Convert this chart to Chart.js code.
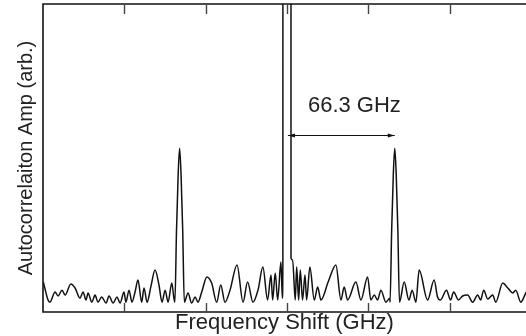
<!DOCTYPE html>
<html>
<head>
<meta charset="utf-8">
<script src="https://cdn.jsdelivr.net/npm/chart.js@4"></script>
<style>
  html, body { margin: 0; padding: 0; background: #fff; overflow: hidden; }
  canvas { display: block; }
</style>
</head>
<body>
<canvas id="myChart" width="526" height="336"></canvas>
<script>
// data (GHz, arbitrary amplitude)
const freqGHz = [
  -149.8, -146.9, -145.7, -142.6, -140.7, -138.3, -136.4, -132.9, -130.3, -127.2,
  -125.4, -123.5, -122.3, -120.0, -118.0, -116.2, -113.9, -111.2, -109.4, -106.9,
  -104.5, -102.6, -100.2, -99.0, -97.1, -95.3, -93.4, -91.6, -89.3, -87.9,
  -86.0, -83.6, -81.1, -78.7, -76.8, -74.9, -73.1, -70.8, -69.5,
  -68.9, -67.9, -66.9, -66.0, -65.1, -64.1, -63.1,
  -60.8, -58.6, -56.5, -54.7, -52.4, -49.2, -46.3, -43.2, -40.7, -38.1,
  -35.0, -30.7, -27.0, -24.2, -20.9, -17.8, -14.8, -11.9, -9.8, -8.8,
  -7.2, -5.7, -3.7, -2.8, -2.5, -2.45,
  2.45, 2.5, 3.5, 5.1, 6.0, 7.2, 8.2, 9.6, 11.1, 12.1,
  14.1, 16.8, 18.9, 20.9, 25.5, 30.1, 33.2, 35.2, 37.3, 42.4,
  45.5, 49.6, 51.6, 53.7, 55.7, 57.8, 60.8, 63.3,
  63.4, 64.4, 65.4, 66.3, 67.2, 68.2, 69.2,
  72.1, 75.0, 77.0, 79.3, 81.3, 86.5, 90.5, 92.6, 94.4,
  98.1, 100.6, 102.5, 105.5, 108.0, 111.1, 114.2, 117.3, 119.1, 121.0,
  123.5, 126.5, 128.4, 132.7, 135.8, 138.9, 140.7, 143.8, 146.9, 148.0
];
const amp = [
  0.098, 0.039, 0.032, 0.065, 0.052, 0.071, 0.055, 0.091, 0.078, 0.045,
  0.065, 0.039, 0.062, 0.032, 0.055, 0.032, 0.049, 0.029, 0.052, 0.029,
  0.049, 0.029, 0.065, 0.032, 0.071, 0.032, 0.065, 0.104, 0.032, 0.078,
  0.032, 0.084, 0.136, 0.088, 0.032, 0.071, 0.032, 0.094, 0.045,
  0.032, 0.266, 0.445, 0.532, 0.445, 0.266, 0.032,
  0.062, 0.029, 0.049, 0.032, 0.065, 0.114, 0.094, 0.032, 0.088, 0.032,
  0.071, 0.153, 0.032, 0.097, 0.032, 0.071, 0.146, 0.039, 0.120, 0.039,
  0.127, 0.039, 0.162, 0.045, 0.170, 3.0,
  3.0, 0.175, 0.169, 0.039, 0.146, 0.039, 0.136, 0.039, 0.120, 0.039,
  0.146, 0.039, 0.081, 0.039, 0.100, 0.153, 0.039, 0.081, 0.039, 0.097,
  0.039, 0.114, 0.039, 0.055, 0.039, 0.071, 0.032, 0.045,
  0.032, 0.266, 0.445, 0.532, 0.445, 0.266, 0.032,
  0.097, 0.039, 0.071, 0.032, 0.136, 0.039, 0.104, 0.049, 0.039,
  0.071, 0.039, 0.065, 0.039, 0.052, 0.055, 0.032, 0.055, 0.039, 0.071,
  0.042, 0.055, 0.032, 0.094, 0.078, 0.062, 0.071, 0.032, 0.062, 0.071
];
const tickValues = [-100, -50, 0, 50, 100];
const spacingLabel = '66.3 GHz';
const spacingFrom = 0.6;
const spacingTo = 66.3;
const arrowAmp = 0.575;
const labelAt = [12.9, 0.649];

const fontFamily = '"Liberation Sans", Arial, sans-serif';
const ink = '#111';

let points = [];
for (let i = 0; i < freqGHz.length; i++) {
  points.push({ x: freqGHz[i], y: amp[i] });
}

// frame, inward ticks and the arrow
const framePlugin = {
  id: 'frame',
  afterDraw(chart) {
    const c = chart.ctx;
    const a = chart.chartArea;
    const xs = chart.scales.x;
    const ys = chart.scales.y;
    c.save();
    c.strokeStyle = ink;
    c.lineWidth = 1.6;
    c.beginPath();
    c.moveTo(a.right + 2, a.top);
    c.lineTo(a.left, a.top);
    c.lineTo(a.left, a.bottom);
    c.lineTo(a.right + 2, a.bottom);
    c.stroke();

    c.strokeStyle = '#444';
    c.lineWidth = 1.4;
    for (const v of tickValues) {
      const px = Math.round(xs.getPixelForValue(v)) + 0.5;
      c.beginPath();
      c.moveTo(px, a.top);
      c.lineTo(px, a.top + 10);
      c.moveTo(px, a.bottom);
      c.lineTo(px, a.bottom - 9);
      c.stroke();
    }

    // spacing arrow
    const x1 = xs.getPixelForValue(spacingFrom);
    const x2 = xs.getPixelForValue(spacingTo);
    const y = Math.round(ys.getPixelForValue(arrowAmp)) + 0.5;
    c.strokeStyle = ink;
    c.fillStyle = ink;
    c.lineWidth = 1;
    c.beginPath();
    c.moveTo(x1, y);
    c.lineTo(x2, y);
    c.stroke();
    c.beginPath();
    c.moveTo(x1, y);
    c.lineTo(x1 + 7, y - 2);
    c.lineTo(x1 + 7, y + 2);
    c.closePath();
    c.fill();
    c.beginPath();
    c.moveTo(x2, y);
    c.lineTo(x2 - 7, y - 2);
    c.lineTo(x2 - 7, y + 2);
    c.closePath();
    c.fill();

    c.font = '22px ' + fontFamily;
    c.textAlign = 'left';
    c.textBaseline = 'alphabetic';
    c.fillStyle = '#222';
    c.fillText(spacingLabel, xs.getPixelForValue(labelAt[0]), ys.getPixelForValue(labelAt[1]));
    c.restore();
  }
};

const ctx = document.getElementById('myChart');
new Chart(ctx, {
  type: 'scatter',
  data: {
    datasets: [{
      data: points,
      showLine: true,
      borderColor: ink,
      borderWidth: 1.5,
      pointRadius: 0,
      cubicInterpolationMode: 'monotone'
    }]
  },
  options: {
    responsive: false,
    devicePixelRatio: 1,
    animation: false,
    layout: { padding: { top: 4, right: 0, bottom: 0, left: 0 } },
    plugins: {
      legend: { display: false },
      tooltip: { enabled: false }
    },
    scales: {
      x: {
        type: 'linear',
        min: -150,
        max: 147,
        grid: { display: false, drawTicks: false },
        border: { display: false },
        ticks: { display: false },
        title: {
          display: true,
          text: 'Frequency Shift (GHz)',
          color: '#222',
          font: { family: fontFamily, size: 22, lineHeight: 1 },
          padding: { top: 0, bottom: 2 }
        }
      },
      y: {
        min: 0,
        max: 1,
        grid: { display: false, drawTicks: false },
        border: { display: false },
        ticks: { display: false },
        title: {
          display: true,
          text: 'Autocorrelaiton Amp (arb.)',
          color: '#222',
          font: { family: fontFamily, size: 20, lineHeight: 1 },
          padding: { top: 16, bottom: 7 }
        }
      }
    }
  },
  plugins: [framePlugin]
});
</script>
</body>
</html>
